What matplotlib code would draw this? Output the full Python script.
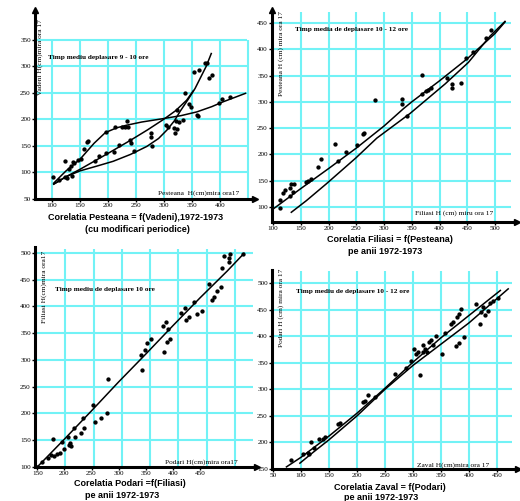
import matplotlib
matplotlib.use('Agg')
import matplotlib.pyplot as plt

W, H = 520, 501
CYAN = '#72f2f6'
SERIF = 'Liberation Serif'
SANS = 'Liberation Sans'

# ---- panel 1: Pesteana = f(Vadeni)
p1_x = [101, 112, 124, 124, 127, 131, 134, 136, 137, 140, 146, 151, 157, 162, 164, 177, 183,
        197, 197, 210, 213, 219, 224, 231, 234, 235, 239, 240, 246, 276, 277, 278, 304, 306,
        317, 320, 321, 323, 323, 326, 334, 338, 344, 347, 353, 358, 361, 362, 372, 377, 380,
        386, 398, 404, 417]
p1_y = [92, 86, 91, 122, 89, 106, 112, 94, 120, 117, 123, 125, 145, 158, 159, 121, 131,
        136, 177, 139, 186, 152, 186, 185, 197, 186, 161, 156, 141, 175, 167, 150, 189, 185,
        183, 174, 196, 181, 217, 195, 199, 250, 229, 224, 289, 208, 207, 293, 306, 307, 278,
        283, 231, 238, 242]
p1_a_x = [103, 125, 150, 175, 195, 215, 233, 260, 296, 330, 358, 385, 405, 425, 445]
p1_a_y = [80, 103, 125, 155, 175, 184, 189, 195, 201, 207, 214, 224, 233, 241, 249]
p1_b_x = [103, 125, 150, 200, 239, 270, 299, 320, 340, 352]
p1_b_y = [78, 92, 106, 136, 160, 180, 200, 216, 236, 254]
p1_c_x = [103, 125, 150, 180, 209, 240, 269, 290, 305, 318, 329, 343, 355, 365, 375, 384]
p1_c_y = [78, 92, 103, 112, 121, 134, 149, 164, 180, 197, 216, 238, 258, 279, 300, 324]

# ---- panel 2: Filiasi = f(Pesteana)
p2_x = [113, 113, 118, 121, 130, 130, 133, 136, 137, 160, 163, 169, 181, 187, 211, 217, 231,
        252, 262, 264, 284, 333, 333, 342, 368, 368, 375, 380, 384, 413, 423, 423, 439, 447,
        461, 484, 493]
p2_y = [98, 114, 127, 133, 121, 137, 143, 129, 143, 147, 150, 154, 177, 191, 219, 187, 205,
        217, 238, 240, 304, 306, 296, 273, 351, 315, 321, 323, 326, 345, 334, 326, 335, 383,
        395, 421, 436]
p2_up_x = [100, 150, 200, 250, 300, 335, 350, 400, 450, 500, 518]
p2_up_y = [96, 135, 173, 212, 254, 287, 300, 340, 382, 430, 452]
p2_lo_x = [133, 160, 196, 250, 287, 347, 410, 452, 491, 518]
p2_lo_y = [90, 112, 144, 194, 231, 278, 334, 375, 425, 453]

# ---- panel 3: Podari = f(Filiasi)
p3_x = [150, 159, 169, 175, 179, 181, 186, 191, 196, 200, 206, 209, 211, 212, 217, 220, 230,
        234, 237, 253, 256, 267, 278, 280, 341, 343, 349, 353, 359, 381, 384, 387, 389, 391,
        394, 414, 422, 425, 430, 439, 444, 453, 466, 472, 476, 481, 488, 490, 494, 503, 505,
        503, 530]
p3_y = [100, 109, 116, 122, 153, 121, 125, 127, 147, 134, 156, 141, 144, 139, 173, 156, 164,
        191, 173, 216, 184, 191, 200, 264, 309, 282, 319, 331, 339, 364, 314, 370, 334, 358,
        339, 387, 397, 375, 381, 409, 386, 392, 441, 412, 417, 428, 437, 472, 494, 491, 497,
        483, 498]
p3_fit_x = [148, 200, 250, 300, 350, 400, 450, 500, 531]
p3_fit_y = [98, 152, 205, 259, 311, 364, 416, 466, 499]

# ---- panel 4: Zaval = f(Podari)
p4_x = [83, 104, 112, 114, 118, 124, 133, 139, 142, 166, 170, 211, 215, 220, 232, 267, 288,
        296, 301, 306, 309, 313, 317, 318, 321, 325, 329, 333, 336, 341, 351, 358, 368, 372,
        376, 378, 382, 383, 386, 391, 413, 419, 422, 425, 428, 434, 437, 443, 452]
p4_y = [167, 179, 181, 178, 200, 189, 207, 206, 211, 234, 236, 276, 278, 289, 286, 329, 340,
        354, 376, 367, 371, 327, 384, 370, 376, 370, 389, 392, 384, 401, 367, 406, 423, 427,
        382, 436, 441, 387, 451, 398, 461, 423, 445, 454, 439, 448, 462, 467, 472]
p4_up_x = [74, 100, 150, 200, 250, 300, 350, 400, 456]
p4_up_y = [154, 172, 212, 255, 302, 351, 397, 439, 486]
p4_lo_x = [98, 120, 150, 200, 250, 300, 350, 400, 470]
p4_lo_y = [161, 180, 205, 250, 300, 345, 385, 425, 489]


fig = plt.figure(figsize=(W / 100, H / 100), dpi=100)


def px_axes(x0, y0, x1, y1):
    return fig.add_axes([x0 / W, 1 - y1 / H, (x1 - x0) / W, (y1 - y0) / H])


def ftext(x, y, s, **kw):
    fig.text(x / W, 1 - y / H, s, **kw)


def setup(ax, xlim, ylim, xticks, yticks, grid_x, grid_y, grid_top, grid_right, top_arrow):
    ax.set_xlim(xlim)
    ax.set_ylim(ylim)
    ax.patch.set_alpha(0)
    ax.vlines(grid_x, ylim[0], grid_top, color=CYAN, lw=1.5, zorder=0)
    ax.hlines(grid_y, xlim[0], grid_right, color=CYAN, lw=1.5, zorder=0)
    for s in ['top', 'right']:
        ax.spines[s].set_visible(False)
    for s in ['left', 'bottom']:
        ax.spines[s].set_linewidth(2.2)
    ax.set_xticks(xticks)
    ax.set_yticks(yticks)
    ax.tick_params(labelsize=5.1, length=2, width=1, pad=1, labelfontfamily=SERIF)
    ax.plot(1, 0, '>', ms=4, color='k', transform=ax.transAxes, clip_on=False)
    if top_arrow:
        ax.plot(0, 1, '^', ms=4, color='k', transform=ax.transAxes, clip_on=False)


def draw_points(ax, x, y):
    ax.plot(x, y, 'o', ms=2.1, color='k', zorder=3)


def draw_curve(ax, x, y):
    ax.plot(x, y, '-', lw=1.1, color='k', zorder=2)


lab_kw = dict(fontfamily=SERIF, fontsize=5.3)
note_kw = dict(fontfamily=SERIF, fontsize=5.2, fontweight='bold', va='center')
title_kw = dict(fontfamily=SANS, fontsize=6.5, fontweight='bold', ha='center', va='center')

# panel 1
ax1 = px_axes(35, 10, 255, 199)
setup(ax1, (69.6, 462), (50, 406), range(100, 401, 50), range(50, 351, 50),
      range(100, 451, 50), range(100, 351, 50), 350, 448, True)
draw_curve(ax1, p1_a_x, p1_a_y)
draw_curve(ax1, p1_b_x, p1_b_y)
draw_curve(ax1, p1_c_x, p1_c_y)
draw_points(ax1, p1_x, p1_y)
ftext(40, 57, 'Vadeni H(cm)mira ora 17', rotation=90, ha='center', va='center', **lab_kw)
ftext(48, 57, 'Timp mediu deplasare 9 - 10 ore', **note_kw)
ftext(158, 193, 'Pesteana  H(cm)mira ora17', ha='left', va='center', **lab_kw)
ftext(136, 217, 'Corelatia Pesteana = f(Vadeni),1972-1973', **title_kw)
ftext(137, 230, '(cu modificari periodice)', **title_kw)

# panel 2
ax2 = px_axes(272, 10, 517, 222)
setup(ax2, (98.2, 539.6), (71.5, 474.7), range(100, 501, 50), range(100, 451, 50),
      range(150, 501, 50), range(100, 451, 50), 470, 528, True)
draw_curve(ax2, p2_up_x, p2_up_y)
draw_curve(ax2, p2_lo_x, p2_lo_y)
draw_points(ax2, p2_x, p2_y)
ftext(281, 53, 'Pesteana H (cm) mira ora 17', rotation=90, ha='center', va='center', **lab_kw)
ftext(295, 29, 'Timp media de deplasare 10 - 12 ore', **note_kw)
ftext(415, 213, 'Filiasi H (cm) miru ora 17', ha='left', va='center', **lab_kw)
ftext(390, 239, 'Corelatia Filiasi = f(Pesteana)', **title_kw)
ftext(385, 251, 'pe anii 1972-1973', **title_kw)

# panel 3
ax3 = px_axes(35, 247, 257, 467)
setup(ax3, (145.8, 555), (100, 511), range(150, 451, 50), range(100, 501, 50),
      [202, 254, 306, 358, 410, 463, 515], range(150, 501, 50), 508, 548, False)
draw_curve(ax3, p3_fit_x, p3_fit_y)
draw_points(ax3, p3_x, p3_y)
ftext(44, 287, 'Filiasi H(cm)mira ora17', rotation=90, ha='center', va='center', **lab_kw)
ftext(55, 289, 'Timp mediu de deplasare 10 ore', **note_kw)
ftext(165, 462, 'Podari H(cm)mira ora17', ha='left', va='center', **lab_kw)
ftext(130, 484, 'Corelatia Podari =f(Filiasi)', **title_kw)
ftext(122, 495, 'pe anii 1972-1973', **title_kw)

# panel 4
ax4 = px_axes(272, 270, 518, 469)
setup(ax4, (48.2, 487.5), (150, 524.5), range(50, 451, 50), range(150, 501, 50),
      range(100, 451, 50), range(200, 501, 50), 522, 477, False)
draw_curve(ax4, p4_up_x, p4_up_y)
draw_curve(ax4, p4_lo_x, p4_lo_y)
draw_points(ax4, p4_x, p4_y)
ftext(281, 308, 'Podari H (cm) mira ora 17', rotation=90, ha='center', va='center', **lab_kw)
ftext(296, 292, 'Timp mediu de deplasare 10 - 12 ore', **note_kw)
ftext(417, 465, 'Zaval H(cm)mira ora 17', ha='left', va='center', **lab_kw)
ftext(390, 487, 'Corelatia Zaval = f(Podari)', **title_kw)
ftext(381, 497, 'pe anii 1972-1973', **title_kw)

fig.savefig('out.png', dpi=100)
